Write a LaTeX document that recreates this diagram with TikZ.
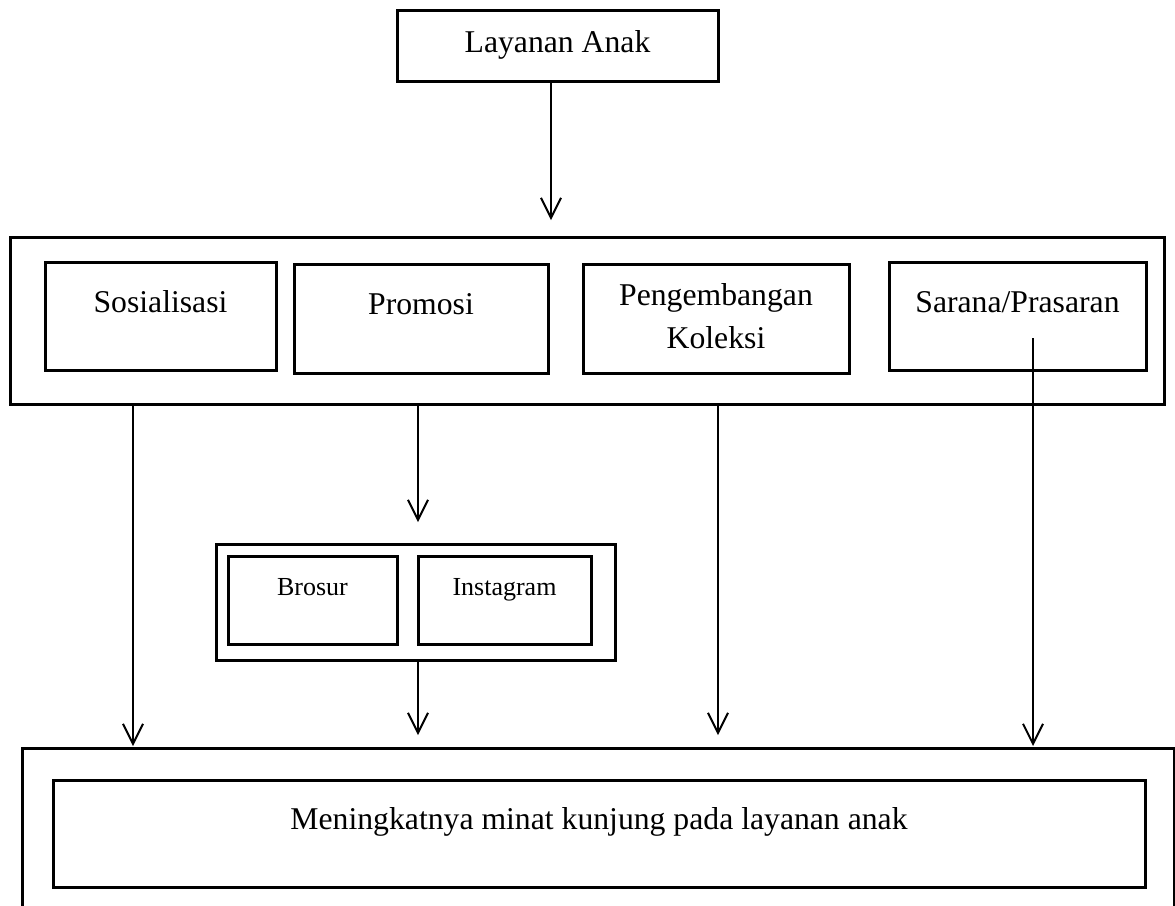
\documentclass[tikz,border=0pt]{standalone}
\usepackage{fontspec}
\setmainfont{Liberation Serif}
\usetikzlibrary{arrows.meta}
\newcommand\mybx[6][]{\node[boxst,#1, minimum width={(#5-#3)*0.5pt}, minimum height={(#6-#4)*0.5pt}] (#2) at ({(#3+#5)/2},{(#4+#6)/2}) {};}
\tikzset{
  boxst/.style={draw, line width=1.5pt, inner sep=0pt, outer sep=0pt, fill=none},
  arr/.style={line width=1pt, -{Straight Barb[length=10pt,width=10pt,line width=1pt]}},
  txt/.style={inner sep=0pt, outer sep=0pt, anchor=base, font=\fontsize{15.85}{21.5}\selectfont},
  stxt/.style={inner sep=0pt, outer sep=0pt, anchor=base, font=\fontsize{13}{16}\selectfont},
}
\begin{document}
\begin{tikzpicture}[x=0.5pt,y=-0.5pt]
\useasboundingbox[fill=white] (0,0) rectangle (1175,906);
\clip (0,0) rectangle (1175,906);
% boxes
\mybx{top}{397}{10}{718}{81}
\mybx{mid}{10}{237}{1164}{404}
\mybx{sos}{45}{262}{276}{370}
\mybx{pro}{294}{264}{548}{373}
\mybx{pen}{583}{264}{849}{373}
\mybx{sar}{889}{262}{1146}{370}
\mybx{bi}{216}{544}{615}{660}
\mybx{bro}{228}{556}{397}{644}
\mybx{ins}{418}{556}{591}{644}
\mybx{bot}{22}{748}{1174}{960}
\mybx{res}{53}{780}{1145}{887}
% texts
\node[txt] (tTop) at (557.5,52) {Layanan Anak};
\node[txt] (tSos) at (160.5,312) {Sosialisasi};
\node[txt] (tPro) at (421,314) {Promosi};
\node[txt, align=center] (tPen) at (716,348) {Pengembangan\\Koleksi};
\node[txt] (tSar) at (1017.5,312) {Sarana/Prasaran};
\node[stxt] (tBro) at (312.5,595) {Brosur};
\node[stxt] (tIns) at (504.5,595) {Instagram};
\node[txt] (tRes) at (599,829) {Meningkatnya minat kunjung pada layanan anak};
% arrow end points
\coordinate (e0) at (551,220);
\coordinate (e1) at (133,746);
\coordinate (e2) at (418,522);
\coordinate (e3) at (718,735);
\coordinate (s4) at (1033,338);
\coordinate (e4) at (1033,746);
\coordinate (e5) at (418,735);
% connectors
\draw[arr] (top.south -| e0) -- (e0);
\draw[arr] (mid.south -| e1) -- (e1);
\draw[arr] (mid.south -| e2) -- (e2);
\draw[arr] (mid.south -| e3) -- (e3);
\draw[arr] (s4) -- (e4);
\draw[arr] (bi.south -| e5) -- (e5);
\end{tikzpicture}
\end{document}
